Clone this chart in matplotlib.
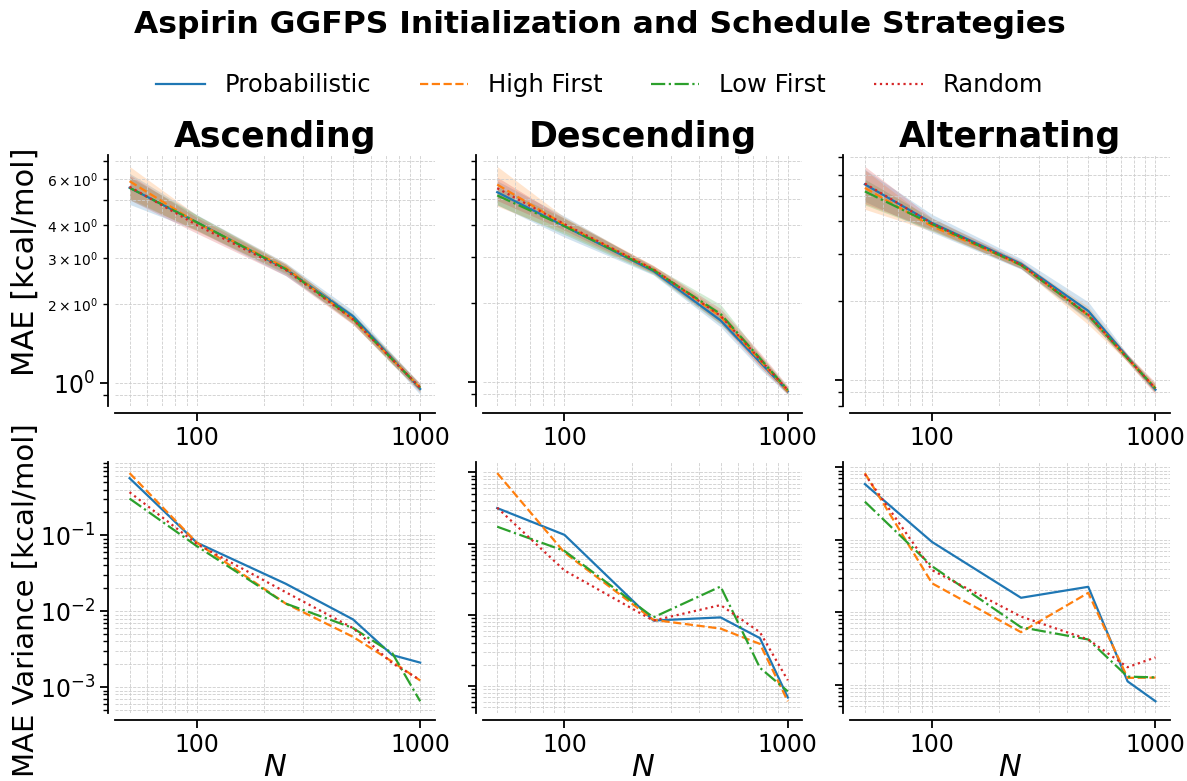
#!/usr/bin/env python3
# -*- coding: utf-8 -*-

"""
Aspirin GGFPS: MAE and MAE variance vs training set size N
for three schedules and four initialization strategies.
"""

import numpy as np
import matplotlib
matplotlib.use("Agg")
import matplotlib.pyplot as plt
from matplotlib.ticker import ScalarFormatter, NullFormatter


N = [50, 100, 250, 500, 750, 1000]

SCHEDULES = ["Ascending", "Descending", "Alternating"]
STRATEGIES = ["Probabilistic", "High First", "Low First", "Random"]
COLORS = ["#1f77b4", "#ff7f0e", "#2ca02c", "#d62728"]
STYLES = ["-", "--", "-.", ":"]

# MAE means [kcal/mol], one list per strategy
mae_ascending = [
    [5.55, 4.10, 2.72, 1.80, 1.24, 0.95],
    [5.88, 4.08, 2.75, 1.75, 1.23, 0.96],
    [5.55, 4.10, 2.72, 1.76, 1.23, 0.96],
    [5.60, 4.00, 2.70, 1.75, 1.23, 0.96],
]
mae_descending = [
    [5.33, 3.95, 2.66, 1.72, 1.19, 0.92],
    [5.70, 4.00, 2.70, 1.78, 1.21, 0.92],
    [5.18, 3.95, 2.68, 1.82, 1.23, 0.93],
    [5.52, 4.02, 2.70, 1.79, 1.22, 0.93],
]
mae_alternating = [
    [5.52, 3.94, 2.76, 1.83, 1.22, 0.92],
    [5.35, 3.83, 2.73, 1.76, 1.21, 0.93],
    [5.19, 3.90, 2.73, 1.76, 1.21, 0.93],
    [5.56, 3.92, 2.74, 1.77, 1.21, 0.93],
]

# MAE variances [kcal/mol]
var_ascending = [
    [0.566, 0.080, 0.023, 0.0078, 0.00264, 0.0021],
    [0.66, 0.080, 0.0126, 0.0046, 0.00216, 0.00122],
    [0.305, 0.072, 0.0126, 0.0060, 0.0028, 0.00065],
    [0.37, 0.077, 0.0178, 0.0060, 0.00206, 0.00124],
]
var_descending = [
    [0.316, 0.133, 0.0083, 0.0092, 0.0047, 0.00069],
    [0.98, 0.075, 0.0085, 0.0064, 0.0039, 0.00061],
    [0.173, 0.079, 0.0092, 0.025, 0.0018, 0.00084],
    [0.32, 0.042, 0.0083, 0.0137, 0.0057, 0.0012],
]
var_alternating = [
    [0.586, 0.093, 0.0158, 0.0224, 0.00111, 0.00059],
    [0.83, 0.025, 0.0053, 0.0185, 0.00124, 0.00125],
    [0.335, 0.043, 0.0062, 0.0042, 0.00129, 0.00126],
    [0.80, 0.038, 0.0087, 0.0042, 0.00174, 0.00238],
]

MAE = [mae_ascending, mae_descending, mae_alternating]
VAR = [var_ascending, var_descending, var_alternating]


def style_axis(ax, show_ylabels):
    ax.set_xscale("log")
    ax.set_yscale("log")
    for side in ("top", "right"):
        ax.spines[side].set_visible(False)
    ax.spines["left"].set_position(("outward", 5))
    ax.spines["bottom"].set_position(("outward", 5))
    for side in ("left", "bottom"):
        ax.spines[side].set_linewidth(1.3)
    ax.grid(True, which="both", linestyle="--", linewidth=0.6, color="#cdcdcd")
    ax.xaxis.set_major_formatter(ScalarFormatter())
    ax.xaxis.set_minor_formatter(NullFormatter())
    ax.tick_params(axis="x", which="minor", length=0)
    ax.tick_params(which="major", length=6, width=1.3, labelsize=17)
    ax.tick_params(axis="y", which="minor", length=3.5, width=1.0, labelsize=10)
    if not show_ylabels:
        ax.tick_params(axis="y", which="both", labelleft=False)


plt.rcParams["font.family"] = "DejaVu Sans"
plt.rcParams["mathtext.fontset"] = "dejavusans"

fig = plt.figure(figsize=(11.87, 7.81), dpi=100)
gs = fig.add_gridspec(2, 3, left=0.0969, right=0.9857, top=0.8015,
                      bottom=0.0875, wspace=0.15, hspace=0.222)

for col, schedule in enumerate(SCHEDULES):
    ax_top = fig.add_subplot(gs[0, col])
    ax_bot = fig.add_subplot(gs[1, col])
    for i, strategy in enumerate(STRATEGIES):
        mean = np.array(MAE[col][i])
        std = np.sqrt(np.array(VAR[col][i]))
        ax_top.plot(N, mean, color=COLORS[i], linestyle=STYLES[i],
                    linewidth=1.6, label=strategy)
        ax_top.fill_between(N, mean - std, mean + std, color=COLORS[i],
                            alpha=0.2, linewidth=0)
        ax_bot.plot(N, VAR[col][i], color=COLORS[i], linestyle=STYLES[i],
                    linewidth=1.6, label=strategy)
    style_axis(ax_top, col == 0)
    style_axis(ax_bot, col == 0)
    ax_top.set_title(schedule, fontsize=25, fontweight="bold")
    ax_bot.set_xlabel("$N$", fontsize=22, labelpad=-3)
    if col == 0:
        ax_top.set_ylabel("MAE [kcal/mol]", fontsize=22)
        ax_bot.set_ylabel("MAE Variance [kcal/mol]", fontsize=21)
        ax_top.yaxis.set_label_coords(-0.235, 0.576)
        ax_bot.yaxis.set_label_coords(-0.235, 0.45)
        handles, labels = ax_bot.get_legend_handles_labels()

fig.suptitle("Aspirin GGFPS Initialization and Schedule Strategies",
             fontsize=22.6, fontweight="bold", x=0.505, y=0.968, va="center")
fig.legend(handles, labels, loc="center", bbox_to_anchor=(0.505, 0.891),
           ncol=4, frameon=False, fontsize=17.5)

fig.savefig("out.png", dpi=100)
